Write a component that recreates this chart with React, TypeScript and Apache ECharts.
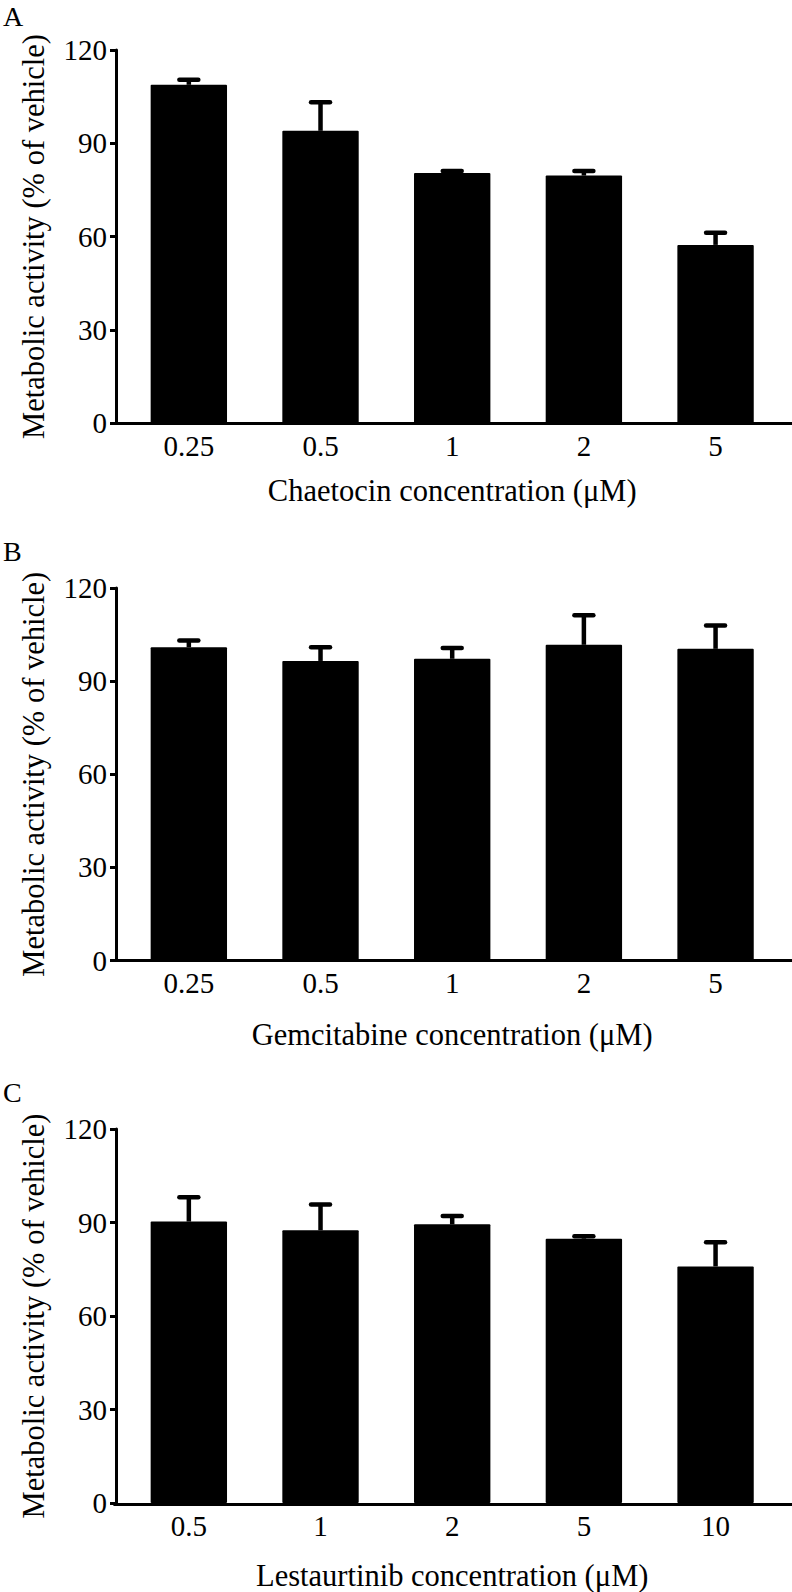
import React, { useEffect, useRef } from "react";
import * as echarts from "echarts";

const FONT = '"Liberation Serif", "Times New Roman", serif';

// ---- data ----
const chaetocinDoses = ["0.25", "0.5", "1", "2", "5"];
const chaetocinMeans = [108.8, 94.0, 80.4, 79.6, 57.3];
const chaetocinErrors = [1.6, 9.2, 0.7, 1.5, 3.9];

const gemcitabineDoses = ["0.25", "0.5", "1", "2", "5"];
const gemcitabineMeans = [100.9, 96.5, 97.2, 101.7, 100.4];
const gemcitabineErrors = [2.2, 4.4, 3.5, 9.5, 7.5];

const lestaurtinibDoses = ["0.5", "1", "2", "5", "10"];
const lestaurtinibMeans = [90.3, 87.5, 89.4, 84.8, 75.9];
const lestaurtinibErrors = [7.8, 8.3, 2.7, 0.8, 7.8];

const yMin = 0;
const yMax = 120;
const yInterval = 30;
const yTitle = "Metabolic activity (% of vehicle)";

const panels = [
  { letter: "A", xTitle: "Chaetocin concentration (μM)", cats: chaetocinDoses, means: chaetocinMeans, errs: chaetocinErrors, top: 50, bottom: 423, letterY: 16, titleGap: 52 },
  { letter: "B", xTitle: "Gemcitabine concentration (μM)", cats: gemcitabineDoses, means: gemcitabineMeans, errs: gemcitabineErrors, top: 588, bottom: 960.5, letterY: 551, titleGap: 59 },
  { letter: "C", xTitle: "Lestaurtinib concentration (μM)", cats: lestaurtinibDoses, means: lestaurtinibMeans, errs: lestaurtinibErrors, top: 1129, bottom: 1504, letterY: 1092, titleGap: 57 },
];

const W = 792;
const H = 1592;

function buildOption() {
  const grid: any[] = [];
  const xAxis: any[] = [];
  const yAxis: any[] = [];
  const series: any[] = [];
  const graphic: any[] = [];

  panels.forEach((p, i) => {
    const height = p.bottom - p.top;
    grid.push({ left: 123, right: 10.6, top: p.top, height });
    grid.push({ left: 114.5, right: 0, top: p.top, height });

    xAxis.push({
      type: "category",
      gridIndex: 2 * i,
      data: p.cats,
      boundaryGap: true,
      axisLine: { show: false },
      axisTick: { show: false },
      axisLabel: { color: "#000", fontFamily: FONT, fontSize: 29, margin: 8 },
      name: p.xTitle,
      nameLocation: "middle",
      nameGap: p.titleGap,
      nameTextStyle: { color: "#000", fontFamily: FONT, fontSize: 30.5 },
    });
    xAxis.push({
      type: "value",
      gridIndex: 2 * i + 1,
      min: 0,
      max: 1,
      axisLine: { show: true, onZero: false, lineStyle: { color: "#000", width: 3 } },
      axisTick: { show: false },
      axisLabel: { show: false },
      splitLine: { show: false },
    });

    yAxis.push({
      type: "value",
      gridIndex: 2 * i,
      min: yMin,
      max: yMax,
      interval: yInterval,
      offset: 7,
      axisLine: { show: true, lineStyle: { color: "#000", width: 3 } },
      axisTick: { show: true, length: 6, lineStyle: { color: "#000", width: 3 } },
      axisLabel: { color: "#000", fontFamily: FONT, fontSize: 29, margin: 9 },
      splitLine: { show: false },
      name: yTitle,
      nameLocation: "middle",
      nameRotate: 90,
      nameGap: 67,
      nameTextStyle: { color: "#000", fontFamily: FONT, fontSize: 30.5 },
    });
    yAxis.push({ type: "value", gridIndex: 2 * i + 1, show: false, min: 0, max: 1 });

    series.push({
      type: "bar",
      xAxisIndex: 2 * i,
      yAxisIndex: 2 * i,
      data: p.means,
      barWidth: "58%",
      itemStyle: { color: "#000", borderRadius: 1 },
      z: 2,
    });
    series.push({
      type: "custom",
      xAxisIndex: 2 * i,
      yAxisIndex: 2 * i,
      z: 3,
      data: p.means.map((m, k) => [k, m, p.errs[k]]),
      encode: { x: 0, y: 1 },
      renderItem: (params: any, api: any) => {
        const idx = api.value(0);
        const v = api.value(1);
        const e = api.value(2);
        const base = api.coord([idx, v]);
        const top = api.coord([idx, v + e]);
        const half = api.size([1, 0])[0] * 0.072;
        return {
          type: "group",
          children: [
            {
              type: "line",
              shape: { x1: base[0], y1: base[1], x2: top[0], y2: top[1] },
              style: { stroke: "#000", lineWidth: 4.5 },
            },
            {
              type: "line",
              shape: { x1: top[0] - half, y1: top[1], x2: top[0] + half, y2: top[1] },
              style: { stroke: "#000", lineWidth: 4.5, lineCap: "round" },
            },
          ],
        };
      },
    });

    graphic.push({
      type: "text",
      left: 3,
      top: p.letterY - 14,
      style: { text: p.letter, fill: "#000", font: `28px ${FONT}` },
    });
  });

  return {
    animation: false,
    backgroundColor: "#fff",
    grid,
    xAxis,
    yAxis,
    series,
    graphic,
  };
}

export default function App() {
  const ref = useRef<HTMLDivElement>(null);
  useEffect(() => {
    document.body.style.margin = "0";
    if (!ref.current) return;
    const chart = echarts.init(ref.current, undefined, { renderer: "svg" });
    chart.setOption(buildOption() as any);
    return () => chart.dispose();
  }, []);
  return <div ref={ref} style={{ width: W, height: H }} />;
}
